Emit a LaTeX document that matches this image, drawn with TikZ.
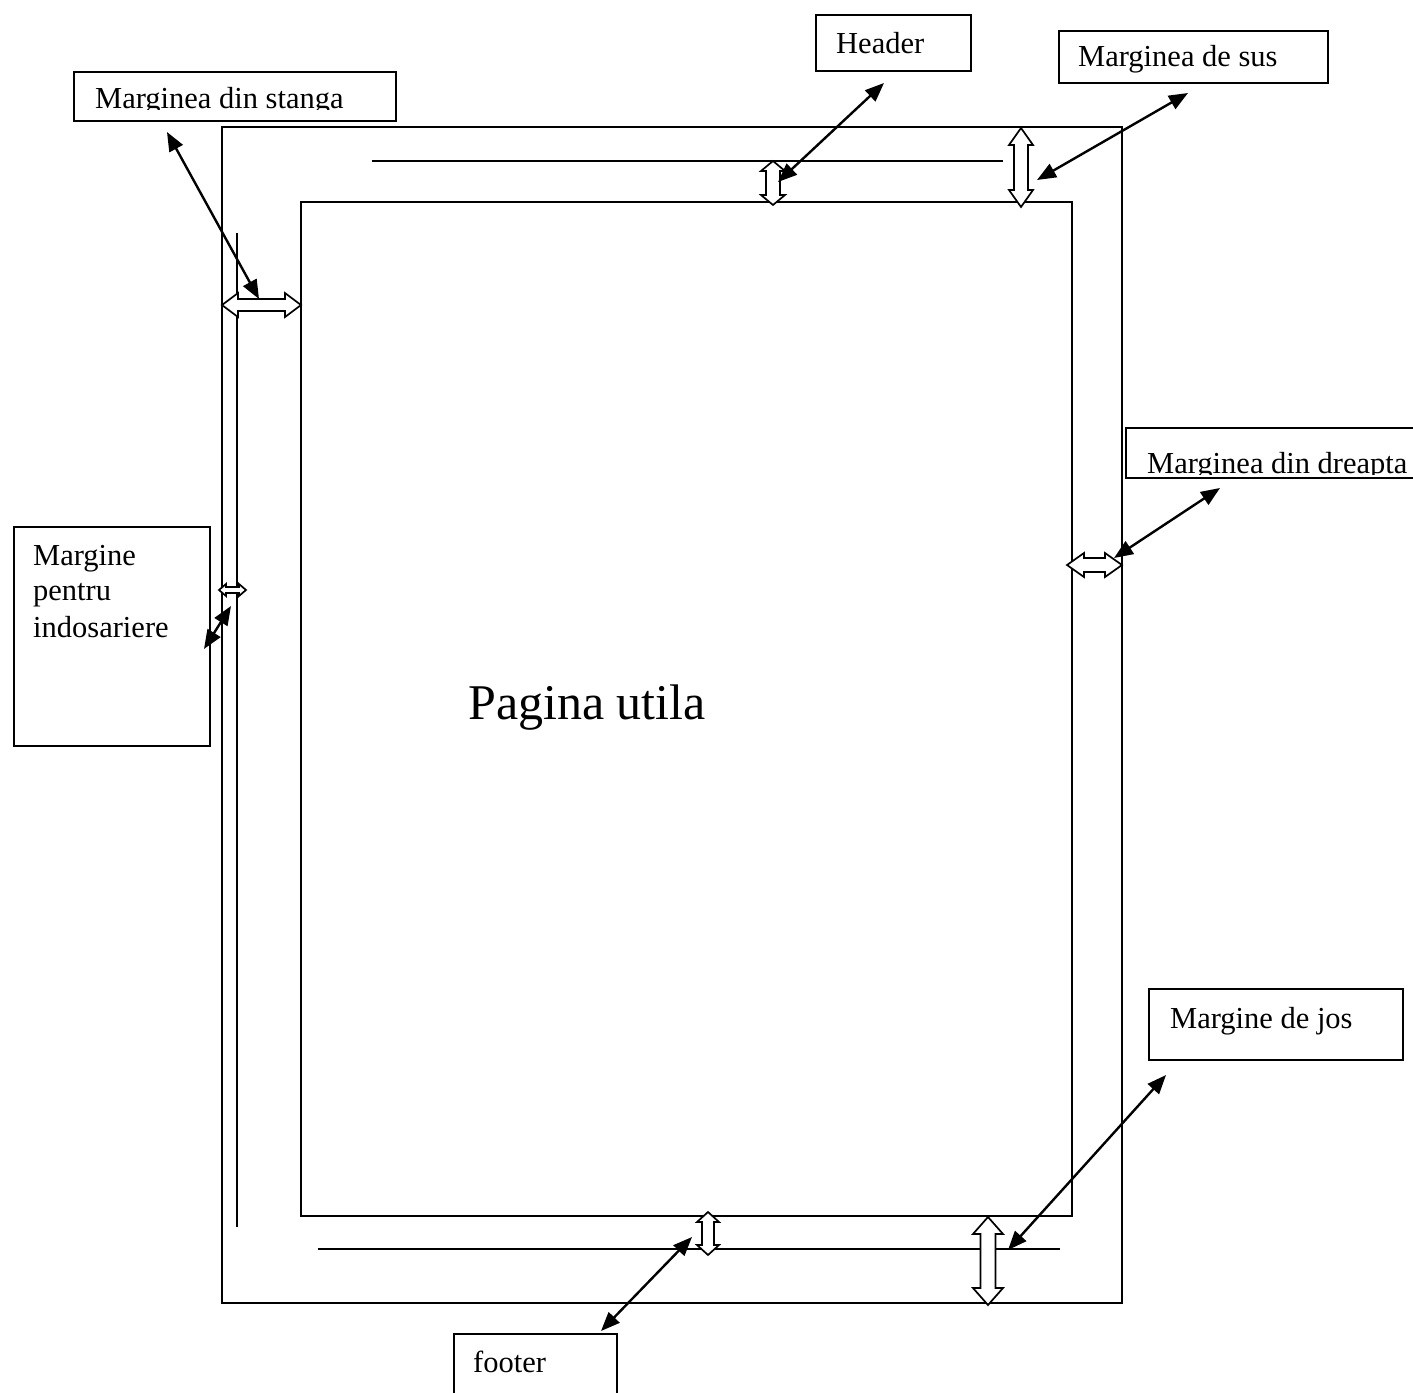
\documentclass[tikz,border=0pt]{standalone}
\usepackage{fontspec}
\setmainfont{Liberation Serif}
\usetikzlibrary{arrows.meta}
% vertical hollow double arrow: x, ytop, ybottom, shaft half-width, head half-width, head length
\newcommand\VArr[6]{%
  \draw[hollow] (#1,#2) -- ++(#5,#6) -- ++(#4-#5,0) -- (#1+#4,#3-#6) -- ++(#5-#4,0)
    -- (#1,#3) -- ++(-#5,-#6) -- ++(#5-#4,0) -- (#1-#4,#2+#6) -- ++(#4-#5,0) -- cycle;}
% horizontal hollow double arrow: y, xleft, xright, shaft half-width, head half-width, head length
\newcommand\HArr[6]{%
  \draw[hollow] (#2,#1) -- ++(#6,-#5) -- ++(0,#5-#4) -- (#3-#6,#1-#4) -- ++(0,#4-#5)
    -- (#3,#1) -- ++(-#6,#5) -- ++(0,#4-#5) -- (#2+#6,#1+#4) -- ++(0,#5-#4) -- cycle;}
\begin{document}
\begin{tikzpicture}[x=1pt,y=-1pt,
  page/.style={draw,line width=1.3pt},
  usable/.style={draw,line width=1.8pt},
  guide/.style={line width=1.8pt},
  box/.style={draw,line width=1.8pt,rectangle,inner sep=0pt,anchor=north west},
  lbl/.style={inner sep=0pt,anchor=base west,font=\fontsize{30.5}{36}\selectfont},
  hollow/.style={draw,fill=white,line width=1.7pt},
  pointer/.style={line width=2.4pt,{Triangle[length=19pt,width=15pt]}-{Triangle[length=19pt,width=15pt]}}
]
\clip (0,0) rectangle (1413,1392);
\fill[white] (0,0) rectangle (1413,1392);

% page and usable area
\draw[page] (222,127) rectangle (1122,1303);
\draw[usable] (301,202) rectangle (1072,1216);
\draw[guide] (372,161) -- (1003,161);
\draw[guide] (318,1249) -- (1060,1249);
\draw[guide] (237,233) -- (237,1227);

\node[inner sep=0pt,anchor=base west,font=\fontsize{50}{60}\selectfont] (pu) at (468,719) {Pagina utila};

% label boxes
\node[box,minimum width=155pt,minimum height=56pt] (hdr) at (815,14) {};
\node[lbl] (hdr-t) at (836,53) {Header};

\node[box,minimum width=269pt,minimum height=52pt] (sus) at (1058,30) {};
\node[lbl] (sus-t) at (1078,66) {Marginea de sus};

\node[box,minimum width=322pt,minimum height=49pt] (stg) at (73,71) {};
\begin{scope}
  \clip (60,60) rectangle (420,109.5);
  \node[lbl] (stg-t) at (95,108) {Marginea din stanga};
\end{scope}

\node[box,minimum width=320pt,minimum height=50pt] (drp) at (1125,427) {};
\begin{scope}
  \clip (1110,410) rectangle (1420,474.5);
  \node[lbl] (drp-t) at (1147,473) {Marginea din dreapta};
\end{scope}

\node[box,minimum width=196pt,minimum height=219pt] (ind) at (13,526) {};
\node[lbl] (ind-t1) at (33,565) {Margine};
\node[lbl] (ind-t2) at (33,600) {pentru};
\node[lbl] (ind-t3) at (33,637) {indosariere};

\node[box,minimum width=254pt,minimum height=71pt] (jos) at (1148,988) {};
\node[lbl] (jos-t) at (1170,1028) {Margine de jos};

\node[box,minimum width=163pt,minimum height=80pt] (ftr) at (453,1333) {};
\node[lbl] (ftr-t) at (473,1372) {footer};

% hollow double arrows
\HArr{305}{222}{301}{6}{12}{16}
\HArr{590}{219}{246}{3}{6}{7}
\VArr{773}{161}{205}{7}{12}{10}
\VArr{1021}{128}{207}{7}{12}{17}
\HArr{565}{1067}{1122}{7}{12}{17}
\VArr{708}{1212}{1255}{6}{11}{10}
\VArr{988}{1217}{1305}{7.5}{15}{17}

% pointer ends
\coordinate (p1a) at (167,132);  \coordinate (p1b) at (259,299);
\coordinate (p2a) at (884,83);   \coordinate (p2b) at (778,182);
\coordinate (p3a) at (1188,93);  \coordinate (p3b) at (1037,180);
\coordinate (p4a) at (1220,488); \coordinate (p4b) at (1114,558);
\coordinate (p5a) at (231,606);  \coordinate (p5b) at (204,649);
\coordinate (p6a) at (1166,1075);\coordinate (p6b) at (1008,1250);
\coordinate (p7a) at (692,1237); \coordinate (p7b) at (601,1331);

\draw[pointer] (p1a) -- (p1b);
\draw[pointer] (p2a) -- (p2b);
\draw[pointer] (p3a) -- (p3b);
\draw[pointer] (p4a) -- (p4b);
\draw[pointer] (p5a) -- (p5b);
\draw[pointer] (p6a) -- (p6b);
\draw[pointer] (p7a) -- (p7b);
\end{tikzpicture}
\end{document}
